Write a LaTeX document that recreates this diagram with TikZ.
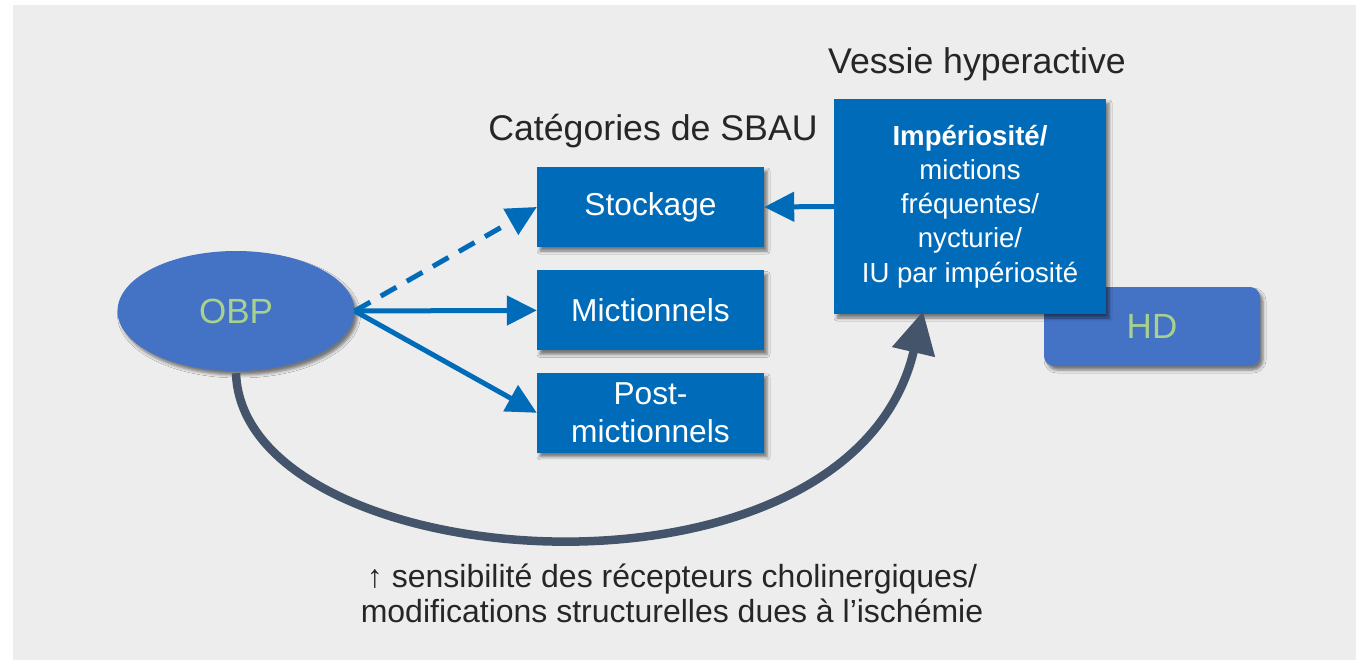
\documentclass[tikz,border=0pt]{standalone}
\usepackage{fontspec}
\setmainfont{Liberation Sans}
\usetikzlibrary{positioning,shapes.geometric,arrows.meta,shadows.blur}

\definecolor{fond}{HTML}{EDEDED}
\definecolor{bleu}{HTML}{006CB9}
\definecolor{bleuclair}{HTML}{4472C4}
\definecolor{vert}{HTML}{A9D18E}
\definecolor{ardoise}{HTML}{44546A}
\definecolor{titre}{HTML}{262626}

\tikzset{
  ombre/.style={blur shadow={shadow xshift=3pt,shadow yshift=-4pt,shadow blur radius=3pt,shadow opacity=50}},
  categorie/.style={fill=bleu,text=white,minimum width=227pt,minimum height=80pt,
    inner sep=0pt,align=center,font=\fontsize{31.7}{38}\selectfont,ombre},
  symptome/.style={fill=bleu,text=white,minimum width=272pt,minimum height=215pt,
    inner sep=0pt,align=center,font=\fontsize{27.6}{34.2}\selectfont,ombre},
  cause/.style={fill=bleuclair,text=vert,inner sep=0pt,font=\fontsize{35}{40}\selectfont,ombre},
  titre/.style={text=titre,font=\fontsize{35.7}{40}\selectfont},
  fleche/.style={draw=bleu,line width=5pt,-{Triangle[length=30pt,width=29pt]}},
}

\begin{document}
\begin{tikzpicture}[x=1pt,y=-1pt]

  \useasboundingbox (0,0) rectangle (1356,660);
  \fill[fond] (13,5) rectangle (1356,660);

  % causes
  \node[cause,ellipse,minimum width=237pt,minimum height=120pt] (obp) at (236,311) {OBP};
  \node[cause,rounded corners=10pt,minimum width=216pt,minimum height=79pt] (hd) at (1152,326.5) {HD};

  % categories
  \node[categorie] (node1) at (650.5,207) {Stockage};
  \node[categorie] (node2) [below = 23pt of node1] {Mictionnels};
  \node[categorie] (node3) [below = 22pt of node2] {Post-\\mictionnels};

  \node[symptome] (vh) at (970,206.5)
    {\textbf{Impériosité/}\\mictions\\fréquentes/\\nycturie/\\IU par impériosité};

  \node[titre] (t1) at (653,131) {Catégories de SBAU};
  \node[titre] (t2) at (977,64) {Vessie hyperactive};

  % fleches
  \draw[fleche,dash pattern=on 18pt off 12pt] (obp.east) -- (node1.west);
  \draw[fleche] (obp.east) -- (node2.west);
  \draw[fleche] (obp.east) -- (node3.west);
  \draw[fleche] (vh.west) -- (node1.east);

  \draw[ardoise,line width=8.5pt,-{Triangle[length=42pt,width=42pt]}]
    ([yshift=-2pt]obp.south) .. controls (243,578) and (850,625) .. ([xshift=-47pt,yshift=3pt]vh.south);

  \node[text=titre,align=center,font=\fontsize{32}{35}\selectfont] (mecanisme) at (672,593)
    {↑ sensibilité des récepteurs cholinergiques/\\modifications structurelles dues à l’ischémie};

\end{tikzpicture}
\end{document}
